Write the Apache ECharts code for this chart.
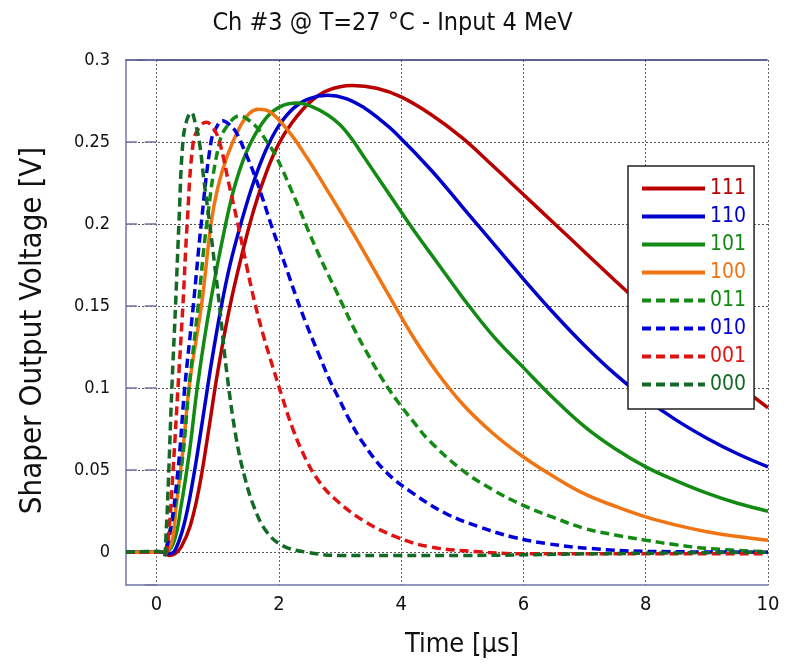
<!DOCTYPE html>
<html>
<head>
<meta charset="utf-8">
<script src="https://cdn.jsdelivr.net/npm/echarts@6/dist/echarts.min.js"></script>
<style>
html,body{margin:0;padding:0;background:#fff;}
#chart{width:785px;height:666px;}
</style>
</head>
<body>
<div id="chart"></div>
<script>
// Legend / series names
const seriesNames = ['111','110','101','100','011','010','001','000'];
const seriesColors = ['#b80000','#0000cc','#138a13','#f07412','#138a13','#0000dd','#e01313','#126a26'];
const seriesDashed = [false,false,false,false,true,true,true,true];

// Each series as [time µs, voltage V]
const s111 = [[-0.5,0],[0,0],[0.1,0],[0.2,-0.002],[0.3,-0.001],[0.4,0.003],[0.55,0.016],[0.7,0.04],[0.85,0.074],[1.0,0.11],[1.2,0.15],[1.4,0.182],[1.6,0.21],[1.8,0.232],[2.0,0.249],[2.2,0.261],[2.5,0.274],[2.8,0.2815],[3.2,0.2845],[3.6,0.2828],[4.0,0.2775],[4.5,0.2665],[5.0,0.2525],[5.5,0.2355],[6.0,0.218],[6.5,0.2005],[7.0,0.183],[7.5,0.1655],[8.0,0.1485],[8.5,0.1325],[9.0,0.1175],[9.5,0.1025],[10,0.088]];
const s110 = [[-0.5,0],[0,0],[0.1,0],[0.2,-0.001],[0.3,0.001],[0.45,0.017],[0.6,0.045],[0.75,0.08],[0.9,0.116],[1.05,0.148],[1.2,0.175],[1.4,0.203],[1.6,0.227],[1.8,0.246],[2.0,0.26],[2.25,0.271],[2.5,0.2765],[2.8,0.2785],[3.1,0.2765],[3.4,0.2708],[3.65,0.2638],[3.9,0.2558],[4.5,0.2325],[5.0,0.2105],[5.5,0.1885],[6.0,0.1665],[6.5,0.1455],[7.0,0.126],[7.5,0.1085],[8.0,0.0935],[8.5,0.0805],[9.0,0.0695],[9.5,0.06],[10,0.052]];
const s101 = [[-0.5,0],[0,0],[0.1,0],[0.27,0.005],[0.4,0.028],[0.54,0.062],[0.675,0.103],[0.88,0.152],[1.13,0.2],[1.3,0.226],[1.52,0.248],[1.8,0.265],[2.05,0.272],[2.3,0.2738],[2.55,0.2715],[2.8,0.2665],[3.0,0.2605],[3.2,0.2515],[3.4,0.2405],[3.8,0.2185],[4.2,0.1965],[4.6,0.176],[5.0,0.1555],[5.5,0.132],[6.0,0.1125],[6.5,0.0935],[7.0,0.0765],[7.5,0.063],[8.0,0.052],[8.5,0.0435],[9.0,0.036],[9.5,0.0298],[10,0.025]];
const s100 = [[-0.5,0],[0,0],[0.1,0],[0.24,0.005],[0.32,0.028],[0.43,0.062],[0.54,0.103],[0.74,0.152],[0.89,0.2],[1.0,0.222],[1.15,0.241],[1.36,0.259],[1.52,0.2675],[1.66,0.27],[1.85,0.2685],[2.17,0.256],[2.45,0.241],[2.72,0.225],[2.99,0.2085],[3.3,0.189],[3.6,0.1695],[3.9,0.15],[4.2,0.131],[4.57,0.1105],[5.0,0.0905],[5.5,0.0725],[6.0,0.058],[6.5,0.046],[7.0,0.0355],[7.5,0.028],[8.0,0.0215],[8.5,0.0165],[9.0,0.0125],[9.5,0.0095],[10,0.0073]];
const s011 = [[-0.5,0],[0,0],[0.1,0],[0.2,0.01],[0.4,0.05],[0.53,0.1],[0.68,0.15],[0.82,0.2],[1.03,0.25],[1.2,0.262],[1.36,0.266],[1.52,0.263],[1.66,0.258],[1.79,0.251],[1.93,0.243],[2.06,0.233],[2.2,0.221],[2.34,0.209],[2.47,0.197],[2.61,0.185],[2.77,0.172],[2.94,0.159],[3.04,0.151],[3.26,0.134],[3.48,0.119],[3.7,0.105],[3.92,0.093],[4.19,0.08],[4.46,0.068],[5.0,0.05],[5.5,0.038],[6.0,0.0285],[6.5,0.021],[7.0,0.0145],[7.5,0.0105],[8.0,0.0073],[8.5,0.0045],[9.0,0.0023],[10,0.0002]];
const s010 = [[-0.5,0],[0,0],[0.1,0],[0.2,0.008],[0.35,0.05],[0.46,0.1],[0.6,0.15],[0.73,0.2],[0.89,0.25],[0.98,0.259],[1.08,0.263],[1.18,0.261],[1.3,0.256],[1.47,0.242],[1.6,0.23],[1.74,0.215],[1.87,0.2],[2.01,0.185],[2.15,0.17],[2.28,0.156],[2.45,0.139],[2.66,0.12],[2.83,0.105],[2.99,0.093],[3.15,0.081],[3.37,0.067],[3.75,0.049],[4.19,0.036],[4.73,0.0236],[5.28,0.0154],[5.82,0.0093],[6.37,0.0053],[7.08,0.0023],[8,0.0005],[10,0]];
const s001 = [[-0.5,0],[0,0],[0.1,0],[0.14,-0.002],[0.2,0.012],[0.27,0.05],[0.35,0.1],[0.43,0.15],[0.5,0.2],[0.6,0.25],[0.7,0.259],[0.81,0.262],[0.92,0.259],[1.03,0.25],[1.18,0.225],[1.33,0.2],[1.47,0.175],[1.6,0.153],[1.74,0.133],[1.9,0.113],[2.06,0.094],[2.23,0.075],[2.45,0.056],[2.66,0.043],[2.9,0.033],[3.37,0.0195],[3.92,0.0093],[4.46,0.0033],[5.28,0.0002],[6,-0.001],[8,-0.001],[10,-0.001]];
const s000 = [[-0.5,0],[0,0.0005],[0.08,0],[0.12,-0.003],[0.16,0.015],[0.2,0.05],[0.25,0.1],[0.31,0.15],[0.365,0.2],[0.43,0.25],[0.5,0.264],[0.57,0.268],[0.63,0.262],[0.7,0.25],[0.78,0.225],[0.87,0.2],[0.95,0.175],[1.03,0.15],[1.15,0.109],[1.3,0.07],[1.44,0.046],[1.6,0.027],[1.79,0.013],[2.06,0.004],[2.45,0],[3,-0.002],[4,-0.002],[5,-0.002],[7,-0.001],[10,0]];
const seriesData = [s111,s110,s101,s100,s011,s010,s001,s000];

// Axis ranges and titles
const xRange = [-0.5, 10];
const yRange = [-0.02, 0.3];
const titleText = 'Ch #3 @ T=27 °C - Input 4 MeV';
const xName = 'Time [µs]';
const yName = 'Shaper Output Voltage [V]';

const FONT = "'DejaVu Sans Condensed','DejaVu Sans',sans-serif";
const frameColor = '#7474a6';

const chart = echarts.init(document.getElementById('chart'), null, {renderer:'canvas'});
const option = {
  animation:false,
  backgroundColor:'#fff',
  title:{text:titleText,left:'center',top:6,textStyle:{fontFamily:FONT,fontSize:25,fontWeight:'normal',color:'#111'}},
  grid:{left:126,right:17,top:60,bottom:81,containLabel:false},
  legend:{
    orient:'vertical',left:628,top:166,
    padding:[12,8,14,12],
    itemWidth:63,itemHeight:20,itemGap:7,
    backgroundColor:'#fff',borderColor:'#222',borderWidth:1.5,
    itemStyle:{color:'rgba(0,0,0,0)',borderColor:'rgba(0,0,0,0)',borderWidth:0,opacity:0},
    lineStyle:{width:4},
    textStyle:{fontFamily:FONT,fontSize:21},
    data:seriesNames.map((n,i)=>({name:n,textStyle:{color:seriesColors[i]}}))
  },
  xAxis:[{
    type:'value',min:xRange[0],max:xRange[1],
    name:xName,nameLocation:'middle',nameGap:46,
    nameTextStyle:{fontFamily:FONT,fontSize:27,color:'#111',padding:[0,0,0,30]},
    axisLine:{show:true,onZero:false,lineStyle:{color:frameColor,width:1.5}},
    axisTick:{show:false},
    axisLabel:{showMinLabel:false,fontFamily:FONT,fontSize:20,color:'#111',margin:10},
    splitLine:{show:true,showMinLine:false,lineStyle:{color:'#666',type:[2,2],width:1}}
  },{
    type:'value',min:xRange[0],max:xRange[1],position:'top',
    axisLine:{show:true,onZero:false,lineStyle:{color:'#2a2a6a',type:[2,1],width:1.5}},
    axisTick:{show:false},axisLabel:{show:false},splitLine:{show:false}
  }],
  yAxis:[{
    type:'value',min:yRange[0],max:yRange[1],
    name:yName,nameLocation:'middle',nameGap:78,nameRotate:90,
    nameTextStyle:{fontFamily:FONT,fontSize:31,color:'#111',padding:[0,16,0,0]},
    axisLine:{show:true,onZero:false,lineStyle:{color:frameColor,width:1.5}},
    axisTick:{show:true,inside:true,length:11,lineStyle:{color:frameColor,width:1.5}},
    axisLabel:{showMinLabel:false,fontFamily:FONT,fontSize:18,color:'#111',margin:16},
    splitLine:{show:true,showMinLine:false,showMaxLine:false,lineStyle:{color:'#555',type:[2,2],width:1}}
  },{
    type:'value',min:yRange[0],max:yRange[1],position:'right',
    axisLine:{show:false},
    axisTick:{show:true,inside:true,length:12,lineStyle:{color:frameColor,width:1.5}},
    axisLabel:{show:false},splitLine:{show:false}
  }],
  series:seriesNames.map((n,i)=>({
    name:n,type:'line',data:seriesData[i],
    showSymbol:false,symbol:'none',
    smooth:0.4,
    itemStyle:{color:seriesColors[i]},
    lineStyle:{color:seriesColors[i],width:3.5,type:seriesDashed[i]?[9,5]:'solid'},
    z:2
  }))
};
chart.setOption(option);
</script>
</body>
</html>
